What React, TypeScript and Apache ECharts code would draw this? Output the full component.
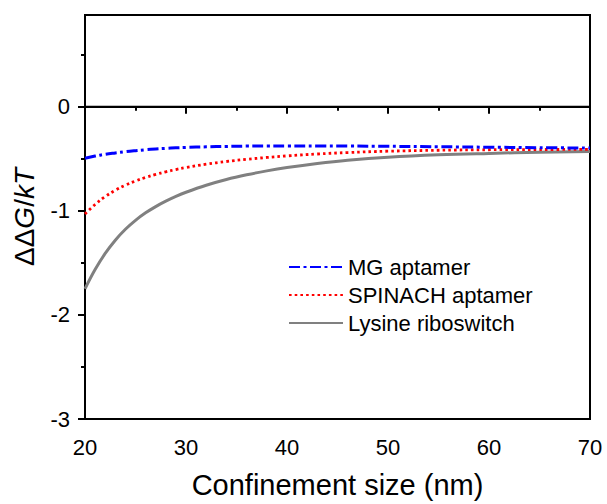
import React, { useEffect, useRef } from "react";
import * as echarts from "echarts";

const xs = [20, 21, 22, 23, 24, 25, 26, 27, 28, 29, 30, 32, 34, 36, 38, 40, 43, 46, 50, 55, 60, 65, 70];
const mgAptamer = [-0.495, -0.475, -0.458, -0.445, -0.433, -0.423, -0.414, -0.407, -0.401, -0.396, -0.392, -0.386, -0.382, -0.379, -0.378, -0.377, -0.377, -0.378, -0.381, -0.385, -0.39, -0.394, -0.398];
const spinachAptamer = [-1.03, -0.94, -0.864, -0.803, -0.754, -0.714, -0.68, -0.651, -0.626, -0.604, -0.585, -0.553, -0.527, -0.506, -0.488, -0.473, -0.455, -0.441, -0.428, -0.419, -0.414, -0.412, -0.411];
const lysineRiboswitch = [-1.75, -1.565, -1.41, -1.283, -1.178, -1.092, -1.02, -0.96, -0.908, -0.862, -0.822, -0.755, -0.7, -0.655, -0.617, -0.585, -0.546, -0.515, -0.486, -0.463, -0.449, -0.438, -0.43];
const seriesNames = ["MG aptamer", "SPINACH aptamer", "Lysine riboswitch"];
const yMajorTicks = [-3, -2, -1, 0];
const yMinorTicks = [-2.5, -1.5, -0.5, 0.5];
const xTitle = "Confinement size (nm)";

const FONT = 'Arial, "Liberation Sans", Helvetica, sans-serif';

export default function App() {
  const ref = useRef<HTMLDivElement>(null);
  useEffect(() => {
    if (!ref.current) return;
    const chart = echarts.init(ref.current, undefined, { renderer: "svg" });
    const pair = (arr: number[]) => xs.map((x, i) => [x, arr[i]]);
    chart.setOption({
      animation: false,
      backgroundColor: "#ffffff",
      grid: {
        left: 85,
        right: 17,
        top: 15,
        bottom: 82,
        show: true,
        borderColor: "#000",
        borderWidth: 2,
        backgroundColor: "transparent",
      },
      legend: {
        orient: "vertical",
        left: 288,
        top: 256,
        padding: 0,
        itemWidth: 54,
        itemHeight: 14,
        itemGap: 6,
        data: seriesNames,
        itemStyle: { opacity: 0 },
        textStyle: { fontSize: 22, fontFamily: FONT, color: "#000", lineHeight: 22 },
      },
      xAxis: {
        type: "value",
        min: 20,
        max: 70,
        interval: 10,
        name: xTitle,
        nameLocation: "middle",
        nameGap: 51,
        nameTextStyle: { fontSize: 29, fontFamily: FONT, color: "#000", lineHeight: 29 },
        axisLine: { show: true, lineStyle: { color: "#000", width: 2 } },
        axisTick: { show: true, inside: false, length: 7, lineStyle: { color: "#000", width: 2 } },
        minorTick: { show: true, splitNumber: 2, length: 4, lineStyle: { color: "#000", width: 2 } },
        axisLabel: { fontSize: 22, fontFamily: FONT, color: "#000", margin: 17 },
        splitLine: { show: false },
        minorSplitLine: { show: false },
      },
      yAxis: [
        {
          type: "value",
          min: -3,
          max: 0.88,
          position: "left",
          name: "{a|ΔΔ}{b|G}{a|/}{b|kT}",
          nameLocation: "middle",
          nameRotate: 90,
          nameGap: 47,
          nameTextStyle: {
            rich: {
              a: { fontSize: 28, fontFamily: FONT, color: "#000", lineHeight: 28 },
              b: { fontSize: 28, fontFamily: FONT, color: "#000", fontStyle: "italic", lineHeight: 28 },
            },
          },
          axisLine: { show: true, lineStyle: { color: "#000", width: 2 } },
          axisTick: { show: true, inside: false, length: 7, customValues: yMajorTicks, lineStyle: { color: "#000", width: 2 } },
          axisLabel: { fontSize: 22, fontFamily: FONT, color: "#000", margin: 15, customValues: yMajorTicks },
          splitLine: { show: false },
        },
        {
          type: "value",
          min: -3,
          max: 0.88,
          position: "left",
          axisLine: { show: false },
          axisTick: { show: true, inside: false, length: 4, customValues: yMinorTicks, lineStyle: { color: "#000", width: 2 } },
          axisLabel: { show: false },
          splitLine: { show: false },
        },
      ],
      series: [
        {
          name: seriesNames[0],
          type: "line",
          yAxisIndex: 0,
          data: pair(mgAptamer),
          symbol: "none",
          smooth: 0.4,
          color: "#0000ff",
          lineStyle: { color: "#0000ff", width: 3, type: [11, 3.5, 3, 3.5] },
          z: 4,
          markLine: {
            silent: true,
            symbol: ["none", "none"],
            label: { show: false },
            lineStyle: { color: "#000", width: 1.3, type: "solid" },
            data: [{ yAxis: 0 }],
          },
        },
        {
          name: seriesNames[1],
          type: "line",
          yAxisIndex: 0,
          data: pair(spinachAptamer),
          symbol: "none",
          smooth: 0.4,
          color: "#ff0000",
          lineStyle: { color: "#ff0000", width: 2.8, type: [2.6, 3.1] },
          z: 3,
        },
        {
          name: seriesNames[2],
          type: "line",
          yAxisIndex: 0,
          data: pair(lysineRiboswitch),
          symbol: "none",
          smooth: 0.4,
          color: "#808080",
          lineStyle: { color: "#808080", width: 3 },
          z: 2,
        },
      ],
    });
    return () => chart.dispose();
  }, []);
  return (
    <div
      ref={ref}
      style={{ position: "fixed", left: 0, top: 0, width: 607, height: 504, background: "#fff" }}
    />
  );
}
